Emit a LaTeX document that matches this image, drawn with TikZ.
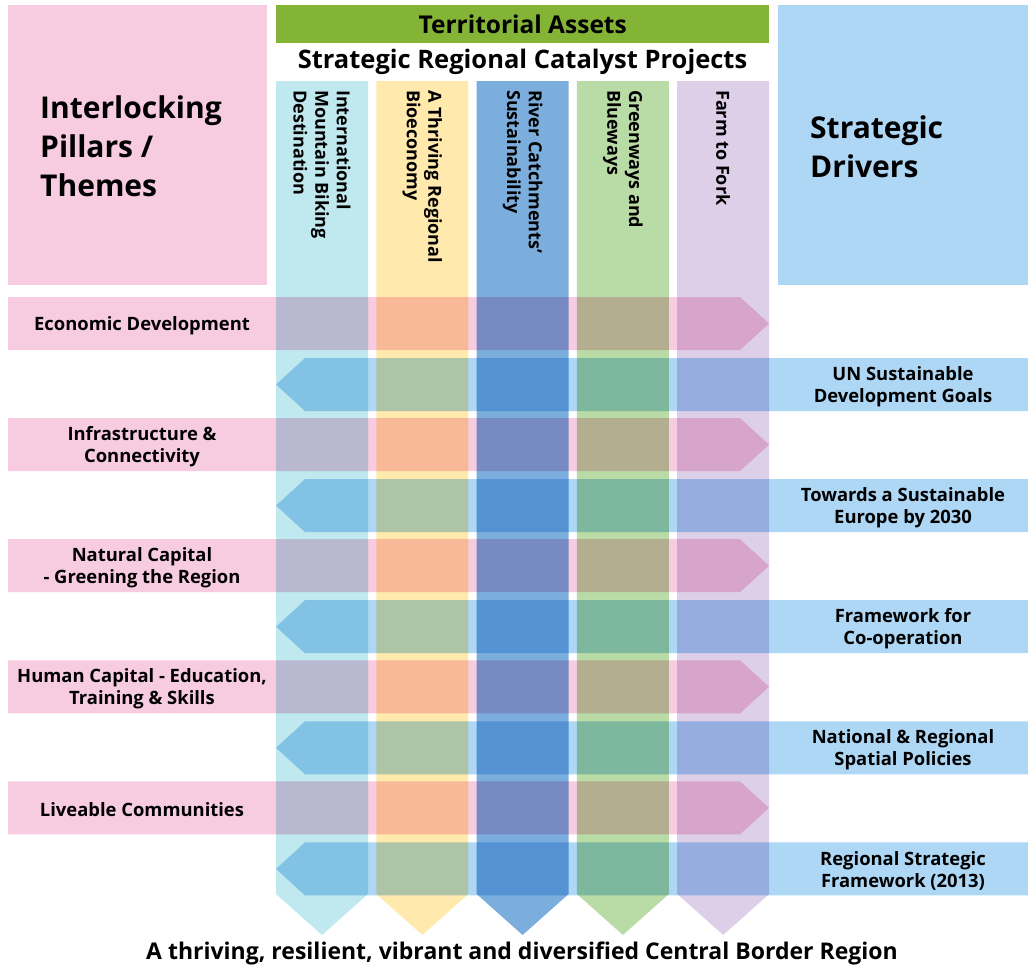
\documentclass[tikz,border=0pt]{standalone}
\usepackage{fontspec}
\setmainfont{Open Sans}
\usetikzlibrary{positioning}
\definecolor{pillarPink}{HTML}{F7CBE0}
\definecolor{driverBlue}{HTML}{ADD7F5}
\definecolor{assetsGreen}{HTML}{84B435}
\definecolor{colCyan}{HTML}{C0E8EF}
\definecolor{colYellow}{HTML}{FFE9AD}
\definecolor{colBlue}{HTML}{7CAEDD}
\definecolor{colGreen}{HTML}{B9DBA5}
\definecolor{colLilac}{HTML}{DECFE9}
\tikzstyle{headbox}=[anchor=north west, inner sep=0pt]
\tikzstyle{titletext}=[anchor=west, align=left, inner sep=0pt, font=\bfseries\fontsize{30}{39}\selectfont]
\tikzstyle{bannertext}=[inner sep=0pt, font=\bfseries\fontsize{25.5}{30}\selectfont]
\tikzstyle{coltext}=[rotate=-90, anchor=west, align=left, inner sep=0pt, font=\bfseries\fontsize{18}{21.7}\selectfont]
\tikzstyle{rowtext}=[align=center, inner sep=0pt, font=\bfseries\fontsize{18.4}{22}\selectfont]

\begin{document}
\begin{tikzpicture}[x=1pt, y=-1pt]
\useasboundingbox (0,0) rectangle (1028,967);

\node (pillarsBox) [headbox, fill=pillarPink, minimum width=259pt, minimum height=280pt] at (8,5) {};
\node (pillarsTitle) [titletext] at (40,146) {Interlocking\\Pillars /\\Themes};
\node (driversBox) [headbox, fill=driverBlue, minimum width=250pt, minimum height=280pt] at (778,5) {};
\node (driversTitle) [titletext] at (810,147) {Strategic\\Drivers};
\node (assetsBar) [headbox, fill=assetsGreen, minimum width=493pt, minimum height=38pt] at (276,5) {};
\node (assetsTitle) [bannertext, font=\bfseries\fontsize{24.5}{30}\selectfont] at (assetsBar.center) {Territorial Assets};
\node (projectsTitle) [bannertext] at (522.5,62) {Strategic Regional Catalyst Projects};

% catalyst project columns
\foreach \i/\c/\t in {0/colCyan/{International\\Mountain Biking\\Destination},
  1/colYellow/{A Thriving Regional\\Bioeconomy},
  2/colBlue/{River Catchments'\\Sustainability},
  3/colGreen/{Greenways and\\Blueways},
  4/colLilac/{Farm to Fork}} {
  \fill[\c] ({276+100.3*\i},81) -- ++(92,0) -- ++(0,813) -- ++(-46,41) -- ++(-46,-41) -- cycle;
  \node (project\i) [coltext] at ({322+100.3*\i},90) {\t};
}

% pillar and driver arrows
\begin{scope}[blend mode=multiply]
\foreach \i in {0,...,4} {
  \fill[pillarPink] (8,{297+121.1*\i}) -- ++(732,0) -- ++(29,26.5) -- ++(-29,26.5) -- ++(-732,0) -- cycle;
  \fill[driverBlue] (1028,{358+121.1*\i}) -- ++(-723,0) -- ++(-29,26.5) -- ++(29,26.5) -- ++(723,0) -- cycle;
}
\end{scope}

\node (econDev) [rowtext] at (142,326) {Economic Development};
\node (infra) [rowtext] at (142,447) {Infrastructure \&\\Connectivity};
\node (natCap) [rowtext] at (142,568) {Natural Capital\\- Greening the Region};
\node (humCap) [rowtext] at (142,689) {Human Capital - Education,\\Training \& Skills};
\node (liveable) [rowtext] at (142,810) {Liveable Communities};

\node (unGoals) [rowtext] at (903,387) {UN Sustainable\\Development Goals};
\node (europe) [rowtext] at (903,508) {Towards a Sustainable\\Europe by 2030};
\node (coop) [rowtext] at (903,629) {Framework for\\Co-operation};
\node (spatial) [rowtext] at (903,750) {National \& Regional\\Spatial Policies};
\node (rsf) [rowtext] at (903,871) {Regional Strategic\\Framework (2013)};

\node (vision) [inner sep=0pt, font=\bfseries\fontsize{23}{27}\selectfont] at (522,953) {A thriving, resilient, vibrant and diversified Central Border Region};
\end{tikzpicture}
\end{document}
